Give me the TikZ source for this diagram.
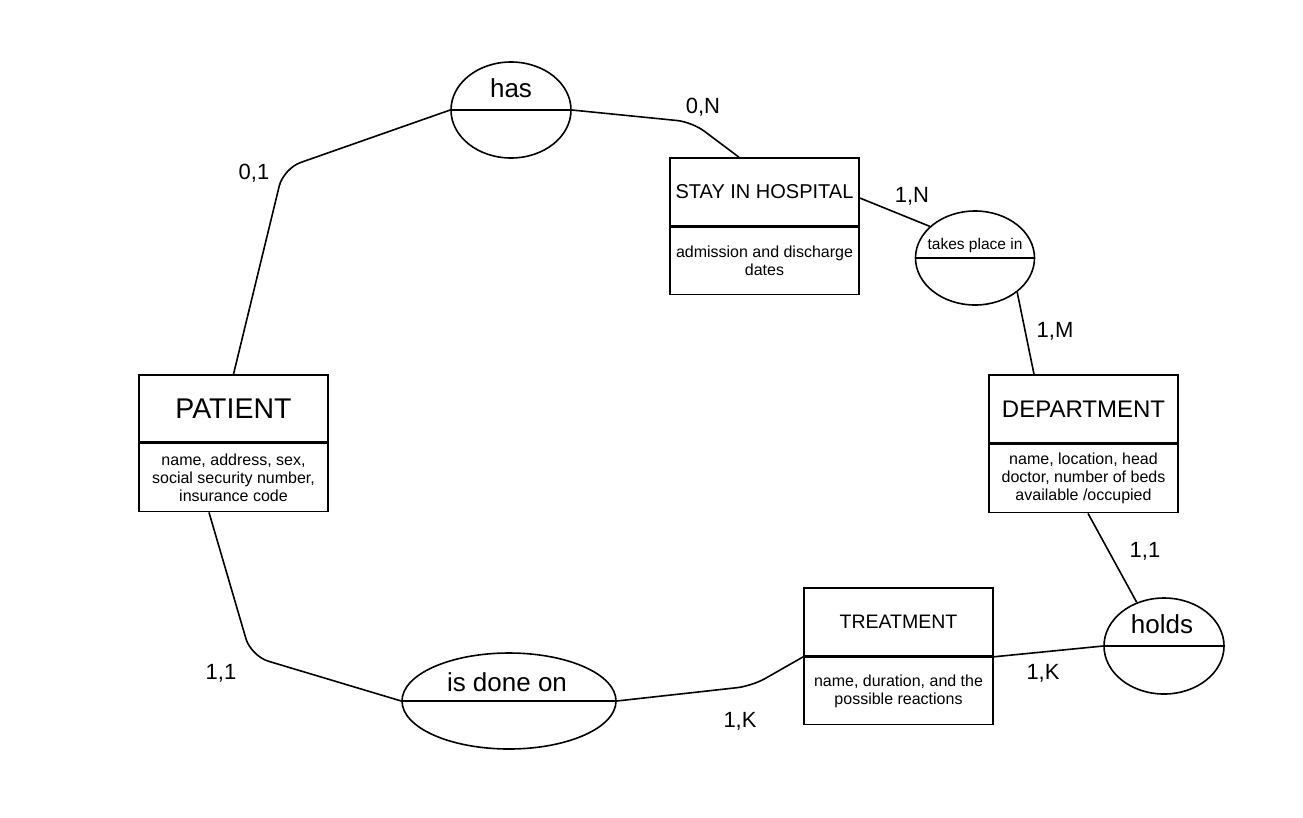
\documentclass[tikz,border=0pt]{standalone}
\usepackage{fontspec}
\setmainfont{Liberation Sans}
\usetikzlibrary{positioning, shapes.geometric}

\begin{document}
\begin{tikzpicture}[x=1pt, y=-1pt, line width=1.6pt, node distance=0pt,
    entity/.style={rectangle, draw, minimum width=189pt, inner sep=0pt, align=center},
    etitle/.style={entity, minimum height=67pt},
    eattr/.style={entity, minimum height=68pt, font=\fontsize{16}{17.8}\selectfont},
    relation/.style={ellipse, draw, minimum width=120pt, minimum height=96pt, inner sep=0pt},
    relname/.style={anchor=base, inner sep=0pt, font=\fontsize{26}{30}\selectfont},
    card/.style={anchor=base, inner sep=0pt, font=\fontsize{22}{26}\selectfont}]

    \useasboundingbox (0,0) rectangle (1303,817);

	%Entities
    \node[etitle, font=\fontsize{28.5}{32}\selectfont] (patient) at (233.5,408.5) {PATIENT};
    \node[eattr, below=of patient] (patientattr) {name, address, sex,\\social security number,\\insurance code};
    \node[etitle, minimum height=68pt, font=\fontsize{20}{24}\selectfont] (stay) at (764.5,192) {STAY IN HOSPITAL};
    \node[eattr, minimum height=67pt, below=of stay] (stayattr) {admission and discharge\\dates};
    \node[etitle, minimum height=68pt, font=\fontsize{24}{28}\selectfont] (dept) at (1083.5,409) {DEPARTMENT};
    \node[eattr, below=of dept] (deptattr) {name, location, head\\doctor, number of beds\\available /occupied};
    \node[etitle, minimum height=68pt, font=\fontsize{19.5}{23}\selectfont] (treat) at (898.5,622) {TREATMENT};
    \node[eattr, minimum height=67pt, below=of treat] (treatattr) {name, duration, and the\\possible reactions};

    % Relationships
    \node[relation] (has) at (511,110) {};
    \node[relation, minimum width=119pt, minimum height=94pt] (takes) at (975,258) {};
    \node[relation] (holds) at (1164,646) {};
    \node[relation, minimum width=214pt] (done) at (509,701) {};
    \foreach \r in {has, takes, holds, done}
        \draw (\r.west) -- (\r.east);

    \node[relname] (hasname) at (511,97) {has};
    \node[relname, font=\fontsize{15.5}{18}\selectfont] (takesname) at (975,249) {takes place in};
    \node[relname] (holdsname) at (1162,633) {holds};
    \node[relname] (donename) at (507,691) {is done on};

    % Cardinalities
    \node[card] (c01) at (254,179) {0,1};
    \node[card] (c0N) at (703,113) {0,N};
    \node[card] (c1N) at (912,202) {1,N};
    \node[card] (c1M) at (1055,337) {1,M};
    \node[card] (c11d) at (1145,557) {1,1};
    \node[card] (c1Kh) at (1043,679) {1,K};
    \node[card] (c1Kt) at (740,727) {1,K};
    \node[card] (c11p) at (221,679) {1,1};

    % Edges
    \coordinate (kpatient) at (283.5,168.5);
    \coordinate (kstay) at (692,122);
    \coordinate (ktreat) at (752,686);
    \coordinate (kdone) at (251,656);

    \draw[rounded corners=18pt] (patient.north) -- (kpatient) -- (has.west);
    \draw[rounded corners=15pt] (has.east) -- (kstay) -- ([xshift=-25.5pt]stay.north);
    \draw ([yshift=-6pt]stay.east) -- (takes.145);
    \draw (takes.-39) -- ([xshift=-49.5pt]dept.north);
    \draw ([xshift=4.5pt]deptattr.south) -- (holds.122);
    \draw (treat.south east) -- (holds.west);
    \draw[rounded corners=15pt] (treat.south west) -- (ktreat) -- (done.east);
    \draw[rounded corners=18pt] ([xshift=-24.5pt]patientattr.south) -- (kdone) -- (done.west);

\end{tikzpicture}
\end{document}
